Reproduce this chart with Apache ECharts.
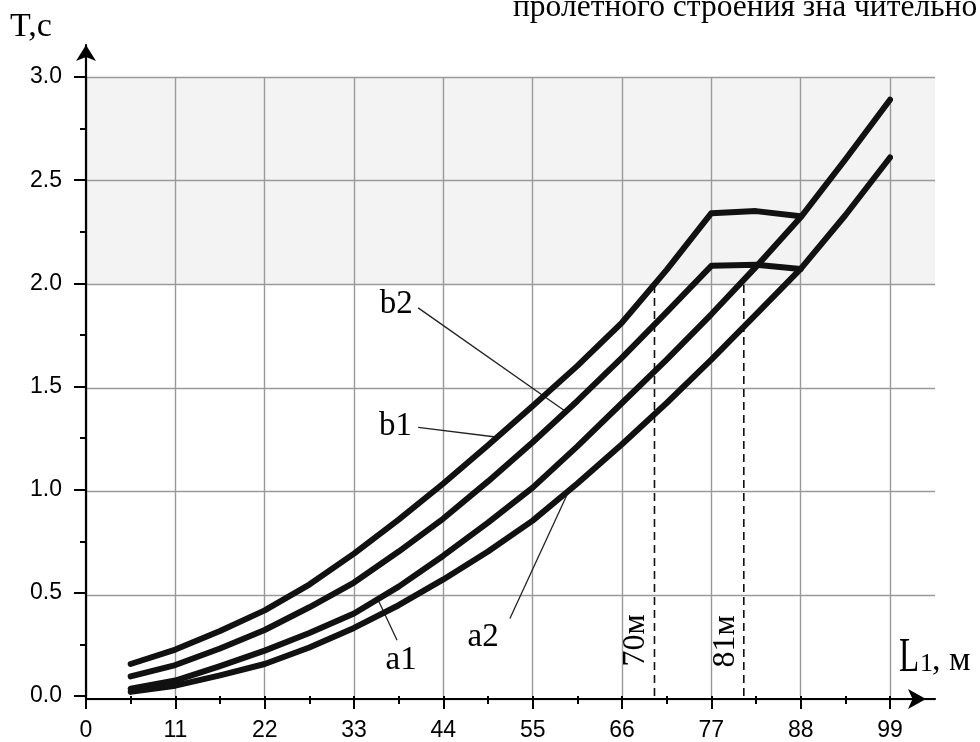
<!DOCTYPE html>
<html><head><meta charset="utf-8">
<script src="https://cdn.jsdelivr.net/npm/echarts@6/dist/echarts.min.js"></script>
<style>html,body{margin:0;padding:0;background:#fff}#c{width:980px;height:742px}</style>
</head><body><div id="c"></div>
<script>
// ---- axis settings ----
const xMin = 0, xMax = 99, xStep = 11, xFrameMax = 104.5;
const yMin = 0, yMax = 3, yStep = 0.5;
const bandRange = [2.0, 3.0];

// ---- curves (L1, m  ->  T, s) ----
const xB1 = [5.5, 11, 16.5, 22, 27.5, 33, 38.5, 44, 49.5, 55, 60.5, 66, 71.5, 77, 82.5, 88];
const tB1 = [0.155, 0.225, 0.315, 0.415, 0.54, 0.69, 0.855, 1.03, 1.215, 1.405, 1.60, 1.81, 2.065, 2.34, 2.35, 2.325];
const xB2 = [5.5, 11, 16.5, 22, 27.5, 33, 38.5, 44, 49.5, 55, 60.5, 66, 71.5, 77, 82.5, 88];
const tB2 = [0.095, 0.15, 0.23, 0.32, 0.43, 0.55, 0.70, 0.86, 1.04, 1.23, 1.43, 1.64, 1.86, 2.085, 2.09, 2.07];
const xA = [5.5, 11, 16.5, 22, 27.5, 33, 38.5, 44, 49.5, 55, 60.5, 66, 71.5, 77, 82.5, 88, 93.5, 99];
const tA1 = [0.035, 0.075, 0.145, 0.22, 0.305, 0.40, 0.53, 0.68, 0.84, 1.01, 1.21, 1.42, 1.63, 1.85, 2.08, 2.32, 2.60, 2.89];
const tA2 = [0.02, 0.05, 0.10, 0.155, 0.235, 0.33, 0.44, 0.565, 0.70, 0.85, 1.03, 1.22, 1.42, 1.63, 1.85, 2.07, 2.33, 2.61];

// ---- dashed markers ----
const mark70 = [[70, 0], [70, 2.0]];
const mark81 = [[81, 0], [81, 2.0]];

// ---- leader lines & labels (data coords) ----
const leaderB2 = [[40.9, 1.881], [59.2, 1.375]];
const leaderB1 = [[40.9, 1.302], [50.7, 1.254]];
const leaderA1 = [[38.3, 0.27], [36.0, 0.463]];
const leaderA2 = [[52.2, 0.376], [59.4, 0.99]];
const curveLabels = [
  { text: 'b2', x: 38.2, y: 1.90 },
  { text: 'b1', x: 38.1, y: 1.307 },
  { text: 'a1', x: 38.8, y: 0.174 },
  { text: 'a2', x: 48.9, y: 0.285 }
];
const markLabels = [
  { text: '70м', x: 67.7, y: 0.27 },
  { text: '81м', x: 78.8, y: 0.265 }
];
const topText = 'пролетного строения зна чительно';

function pairs(xs, ys) { return xs.map((x, i) => [x, ys[i]]); }

const GRID = '#9a9a9a';
const SERIF = '"Liberation Serif", "Times New Roman", serif';
const SANS = '"Liberation Sans", Arial, sans-serif';

const curveStyle = { color: '#111', width: 6, cap: 'round', join: 'round' };
function curve(name, data) {
  return { name, type: 'line', xAxisIndex: 0, yAxisIndex: 0, data, symbol: 'none', smooth: false,
    lineStyle: curveStyle, z: 10, silent: true, animation: false };
}
function thin(data, extra) {
  return Object.assign({ type: 'line', xAxisIndex: 0, yAxisIndex: 0, data, symbol: 'none',
    lineStyle: { color: '#222', width: 1.3 }, z: 9, silent: true, animation: false }, extra || {});
}

const chart = echarts.init(document.getElementById('c'), null, { renderer: 'canvas' });
const option = {
  animation: false,
  backgroundColor: '#fff',
  grid: [
    { left: 86, right: 90, top: 77, bottom: 43 },
    { left: 86, right: 45, top: 77, bottom: 43 },
    { left: 86, right: 45, top: 45, bottom: 43 }
  ],
  xAxis: [
    { gridIndex: 0, type: 'value', min: xMin, max: xMax, interval: xStep, z: 5,
      axisLine: { show: false },
      axisTick: { show: true, length: 13, lineStyle: { color: '#000', width: 2 } },
      minorTick: { show: true, splitNumber: 2, length: 8, lineStyle: { color: '#000', width: 2 } },
      axisLabel: { margin: 23, color: '#000', fontSize: 23, fontFamily: SANS },
      splitLine: { show: true, lineStyle: { color: GRID, width: 1.4 } } },
    { gridIndex: 1, type: 'value', min: xMin, max: xFrameMax, z: 6,
      axisLine: { show: true, symbol: ['none', 'arrow'], symbolSize: [15, 18], symbolOffset: [0, -9],
        lineStyle: { color: '#000', width: 2.2 } },
      axisTick: { show: false }, axisLabel: { show: false }, splitLine: { show: false } },
    { gridIndex: 2, type: 'value', min: 0, max: 1, show: false }
  ],
  yAxis: [
    { gridIndex: 0, type: 'value', min: yMin, max: yMax, interval: yStep, z: 5,
      axisLine: { show: false },
      axisTick: { show: true, length: 12, lineStyle: { color: '#000', width: 2 } },
      minorTick: { show: true, splitNumber: 2, length: 6, lineStyle: { color: '#000', width: 2 } },
      axisLabel: { margin: 24, color: '#000', fontSize: 23, fontFamily: SANS, formatter: v => v.toFixed(1) },
      splitLine: { show: false } },
    { gridIndex: 1, type: 'value', min: yMin, max: yMax, interval: yStep, z: 5,
      axisLine: { show: false }, axisTick: { show: false }, axisLabel: { show: false },
      splitLine: { show: true, lineStyle: { color: GRID, width: 1.4 } } },
    { gridIndex: 2, type: 'value', min: 0, max: 1, z: 6,
      axisLine: { show: true, symbol: ['none', 'arrow'], symbolSize: [15, 16], lineStyle: { color: '#000', width: 2.2 } },
      axisTick: { show: false }, axisLabel: { show: false }, splitLine: { show: false } }
  ],
  series: [
    { type: 'line', xAxisIndex: 1, yAxisIndex: 1, data: [], z: 0, silent: true,
      markArea: { silent: true, z: 0, itemStyle: { color: '#f3f3f3' },
        data: [[{ yAxis: bandRange[0] }, { yAxis: bandRange[1] }]] } },
    curve('b1', pairs(xB1, tB1)),
    curve('b2', pairs(xB2, tB2)),
    curve('a1', pairs(xA, tA1)),
    curve('a2', pairs(xA, tA2)),
    thin(mark70, { lineStyle: { color: '#111', width: 1.6, type: [8, 5] } }),
    thin(mark81, { lineStyle: { color: '#111', width: 1.6, type: [8, 5] } }),
    thin(leaderB2), thin(leaderB1), thin(leaderA1), thin(leaderA2)
  ]
};
chart.setOption(option);

const graphics = [];
curveLabels.forEach(l => {
  const p = chart.convertToPixel({ gridIndex: 0 }, [l.x, l.y]);
  graphics.push({ type: 'text', x: p[0], y: p[1], z: 20, silent: true,
    style: { text: l.text, font: '33px ' + SERIF, fill: '#000', align: 'center', verticalAlign: 'middle' } });
});
markLabels.forEach(l => {
  const p = chart.convertToPixel({ gridIndex: 0 }, [l.x, l.y]);
  graphics.push({ type: 'text', x: p[0], y: p[1], rotation: Math.PI / 2, z: 20, silent: true,
    style: { text: l.text, font: '32px ' + SERIF, fill: '#000', align: 'center', verticalAlign: 'middle' } });
});
// axis titles & cropped body text
graphics.push({ type: 'text', x: 10, y: 27, z: 20, silent: true,
  style: { text: 'T,c', font: '34px ' + SERIF, fill: '#000', align: 'left', verticalAlign: 'middle' } });
graphics.push({ type: 'text', x: 899, y: 658, scaleY: 1.45, z: 20, silent: true,
  style: { text: 'L', font: '33px ' + SERIF, fill: '#000', align: 'left', verticalAlign: 'middle' } });
graphics.push({ type: 'text', x: 920, y: 664, z: 20, silent: true,
  style: { text: '1', font: '26px ' + SERIF, fill: '#000', align: 'left', verticalAlign: 'middle' } });
graphics.push({ type: 'text', x: 932, y: 661, z: 20, silent: true,
  style: { text: ', м', font: '34px ' + SERIF, fill: '#000', align: 'left', verticalAlign: 'middle' } });
graphics.push({ type: 'text', x: 513, y: 8, z: 20, silent: true,
  style: { text: topText, font: '31.5px ' + SERIF, fill: '#000', align: 'left', verticalAlign: 'middle' } });
chart.setOption({ graphic: graphics });
</script>
</body></html>
